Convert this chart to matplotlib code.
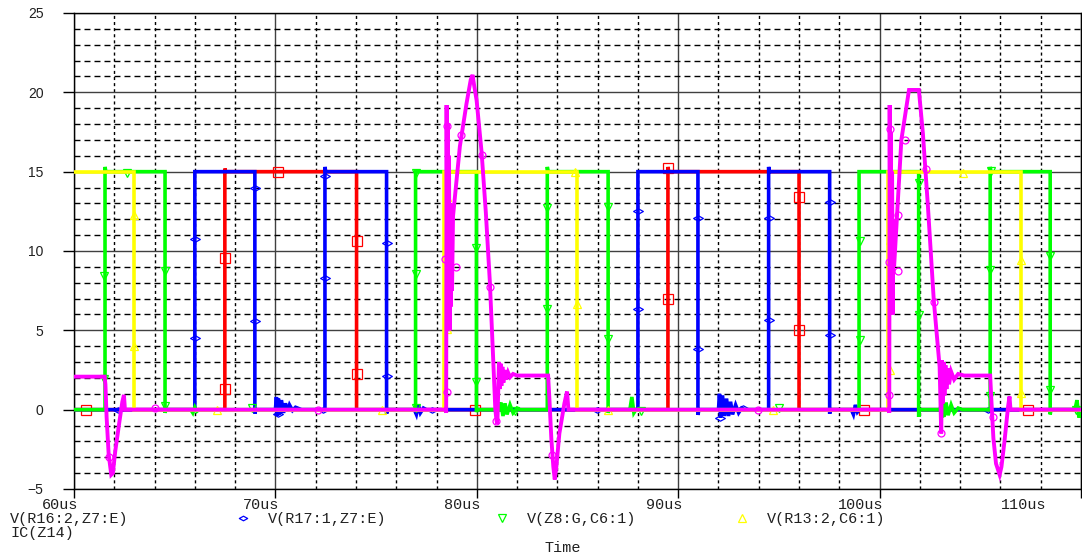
import matplotlib
matplotlib.use("Agg")
import matplotlib.pyplot as plt
import matplotlib.transforms as mtransforms
from matplotlib.lines import Line2D
from matplotlib.path import Path
from matplotlib.ticker import MultipleLocator

# transient run 60us..110us, gate drive voltages and IC(Z14)
x_major = [60, 70, 80, 90, 100, 110]
x_labels = ["60us", "70us", "80us", "90us", "100us", "110us"]
y_major = [-5, 0, 5, 10, 15, 20, 25]

# V(R16:2,Z7:E)
red_t = [60.0, 67.49, 67.49, 67.53, 74.03, 74.03, 89.49, 89.49, 89.53, 96.0, 96.0, 110.0]
red_v = [0.0, 0.0, 15.2, 15.0, 15.0, 0.0, 0.0, 15.3, 15.0, 15.0, 0.0, 0.0]
red_mk_t = [60.58, 67.49, 67.49, 70.14, 74.03, 74.03, 79.9, 89.49, 89.49, 96.0, 96.0, 99.22, 107.36]
red_mk_v = [0, 9.58, 1.29, 15.0, 10.63, 2.25, 0, 15.2, 6.98, 13.4, 5.03, 0, 0]

# V(R17:1,Z7:E)
blue_t = [60.0, 66.0, 66.0, 68.98, 68.98, 69.03,
          70.0, 70.05, 70.1, 70.15, 70.2, 70.3, 70.4, 70.5, 70.6, 70.7, 70.85, 71.0, 71.3,
          72.46, 72.46, 72.5, 75.52, 75.52, 75.56,
          76.9, 77.0, 77.1, 77.2, 77.35, 77.5,
          88.0, 88.0, 90.98, 90.98, 91.03,
          92.0, 92.05, 92.1, 92.2, 92.3, 92.4, 92.5, 92.6, 92.7, 92.85, 93.0, 93.15, 93.3,
          94.49, 94.49, 94.53, 97.52, 97.52, 97.56,
          98.6, 98.7, 98.8, 98.9, 99.0,
          110.0]
blue_v = [0, 0, 15, 15, -0.25, 0,
          0, 0.8, -0.4, 0.7, -0.3, 0.6, -0.2, 0.4, -0.1, 0.3, -0.05, 0.15, 0,
          0, 15.3, 15, 15, -0.25, 0,
          0, -0.3, 0.3, -0.2, 0.1, 0,
          0, 15, 15, -0.33, 0,
          0, 1.0, -0.5, 0.9, -0.4, 0.7, -0.4, 0.5, -0.3, 0.3, -0.2, 0.1, 0,
          0, 15.3, 15, 15, -0.25, 0,
          0, -0.3, 0.3, -0.15, 0,
          0]
blue_mk_t = [62.2, 66.0, 66.0, 68.98, 68.98, 70.14, 72.37, 72.46, 72.46, 75.52, 75.52, 77.79,
             85.97, 88.0, 88.0, 90.98, 90.98, 92.06, 93.2, 94.49, 94.49, 97.52, 97.52, 105.38]
blue_mk_v = [0, 10.74, 4.5, 14.0, 5.6, -0.3, 0, 14.73, 8.28, 10.49, 2.15, 0,
             0, 12.5, 6.33, 12.1, 3.8, -0.5, 0.1, 12.1, 5.65, 13.1, 4.7, 0]

# V(Z8:G,C6:1)
green_t = [60.0, 61.54, 61.54, 61.58, 64.52, 64.52, 64.56,
           65.8, 65.9, 66.0, 66.1, 66.2,
           76.96, 76.96, 77.0, 79.98, 79.98, 80.02,
           81.1, 81.2, 81.3, 81.4, 81.5, 81.65, 81.8, 82.0, 82.15,
           83.5, 83.5, 83.54, 86.52, 86.52, 86.56,
           87.6, 87.7, 87.8, 87.9,
           98.98, 98.98, 101.94, 101.94, 101.98,
           103.0, 103.1, 103.2, 103.3, 103.4, 103.55, 103.7, 103.9, 104.1,
           105.49, 105.49, 105.53, 108.47, 108.47, 108.51,
           109.7, 109.8, 109.9, 110.0]
green_v = [0, 0, 15.3, 15, 15, -0.2, 0,
           0, -0.2, 0.15, -0.1, 0,
           0, 15, 15, 15, -0.15, 0,
           0, 0.45, -0.4, 0.4, -0.3, 0.3, -0.2, 0.1, 0,
           0, 15.3, 15, 15, -0.2, 0,
           0, 0.8, -0.2, 0,
           0, 15, 15, -0.45, 0,
           0, 0.5, -0.45, 0.45, -0.35, 0.3, -0.2, 0.1, 0,
           0, 15.3, 15, 15, -0.3, 0,
           0, 0.6, -0.5, 0]
green_mk_t = [61.5, 61.5, 62.61, 64.52, 64.52, 68.82, 76.96, 76.96, 76.96, 79.98, 79.98, 81.89,
              83.51, 83.51, 86.49, 86.49, 88.17, 95.0, 99.01, 99.01, 101.94, 101.94, 103.14,
              105.54, 105.49, 105.49, 108.44, 108.44, 109.76]
green_mk_v = [8.4, 1.92, 14.9, 8.72, 0.26, 0.1, 14.9, 8.53, 0.1, 10.17, 1.77, -0.1,
              12.7, 6.33, 12.8, 4.45, -0.1, 0.1, 10.65, 4.4, 14.3, 5.97, -0.2,
              15.07, 8.8, 0.83, 9.7, 1.25, 0]

# V(R13:2,C6:1)
yellow_t = [60.0, 62.99, 62.99, 78.36, 78.36, 84.97, 84.97, 100.42, 100.42, 107.03, 107.03, 110.0]
yellow_v = [15, 15, 0, 0, 15, 15, 0, 0, 15, 15, 0, 0]
yellow_mk_t = [62.99, 62.99, 67.08, 75.27, 78.5, 78.5, 84.86, 84.98, 86.52, 94.7,
               100.5, 100.5, 104.14, 107.0, 107.0]
yellow_mk_v = [12.3, 4.0, 0, 0, 13.4, 5.07, 15.0, 6.66, 0, 0, 10.7, 2.5, 14.9, 9.44, 1.04]

# IC(Z14)
mag_t = [60.0, 61.52, 61.56, 61.62, 61.72, 61.85, 61.93, 62.05, 62.25, 62.40, 62.48, 62.53,
         78.46, 78.48, 78.50, 78.53, 78.56, 78.59, 78.62, 78.65, 78.68, 78.71, 78.74, 78.77,
         78.82, 79.16, 79.49, 79.70, 79.79, 79.86, 79.99, 80.24, 80.45, 80.65, 80.80, 80.92,
         80.98, 81.02, 81.06, 81.10, 81.14, 81.18, 81.22, 81.27, 81.32, 81.38, 81.45, 81.55,
         81.65, 81.80, 82.00, 83.54, 83.60, 83.70, 83.80, 83.87, 83.95, 84.10, 84.35, 84.48, 84.55,
         100.46, 100.48, 100.50, 100.53, 100.56, 100.59, 100.62, 100.65, 100.68, 100.72,
         101.08, 101.46, 101.95, 102.15, 102.40, 102.69, 102.98, 103.06,
         103.10, 103.14, 103.18, 103.22, 103.27, 103.32, 103.38, 103.45, 103.55, 103.7, 103.9, 104.2,
         105.49, 105.55, 105.65, 105.78, 105.96, 106.05, 106.2, 106.38, 106.45, 106.5, 110.0]
mag_v = [2.08, 2.08, 1.6, -0.5, -2.8, -4.1, -4.0, -2.6, -0.8, 0.5, 0.93, 0.0,
         0.0, -0.2, 19.2, 8.0, 18.0, 6.0, 16.0, 5.0, 13.0, 6.5, 11.0, 7.5,
         12.2, 16.6, 19.3, 20.8, 21.1, 20.5, 19.5, 16.2, 12.4, 8.0, 3.6, 0.0,
         -0.7, -0.9, 1.0, 3.0, 1.3, 2.9, 1.5, 2.7, 1.7, 2.5, 1.9, 2.35,
         2.05, 2.25, 2.15, 2.15, 0.8, -1.8, -3.6, -4.4, -3.6, -1.5, 0.4, 1.14, 0.0,
         0.0, -0.2, 19.2, 8.5, 17.5, 7.0, 15.0, 6.0, 12.0, 9.0,
         17.0, 20.15, 20.15, 17.4, 12.8, 6.9, 2.7, -1.5,
         3.1, 0.4, 3.0, 0.9, 2.8, 1.3, 2.6, 1.6, 2.4, 1.9, 2.25, 2.15,
         2.15, 0.6, -1.8, -3.4, -4.1, -3.6, -2.0, 0.2, 0.83, 0.0, 0.0]
mag_mk_t = [61.75, 64.02, 72.12, 78.41, 78.5, 78.5, 78.96, 79.24, 80.28, 80.65, 80.95, 83.73,
            93.96, 100.46, 100.46, 100.5, 100.9, 100.9, 101.26, 102.32, 102.71, 103.04, 105.62]
mag_mk_v = [-3.0, 0.1, 0, 9.47, 17.9, 1.14, 9.0, 17.3, 16.05, 7.7, -0.7, -2.85,
            0, 9.33, 0.93, 17.7, 12.3, 8.76, 17.0, 15.15, 6.8, -1.5, -0.45]

W, H = 1082, 556
MONO = "Liberation Mono"

# flat open diamond used for the second trace
flat_diamond = Path([(-1, 0), (0, 0.55), (1, 0), (0, -0.55), (-1, 0)],
                    [Path.MOVETO, Path.LINETO, Path.LINETO, Path.LINETO, Path.CLOSEPOLY])

traces = [
    (red_t, red_v, red_mk_t, red_mk_v, "#ff0000", "s", 6.5),
    (blue_t, blue_v, blue_mk_t, blue_mk_v, "#0000ff", flat_diamond, 7.0),
    (green_t, green_v, green_mk_t, green_mk_v, "#00ff00", "v", 5.5),
    (yellow_t, yellow_v, yellow_mk_t, yellow_mk_v, "#ffff00", "^", 5.5),
    (mag_t, mag_v, mag_mk_t, mag_mk_v, "#ff00ff", "o", 5.0),
]


def fpos(x, y):
    return x / W, 1 - y / H


fig = plt.figure(figsize=(W / 100, H / 100), dpi=100)
ax = fig.add_axes([74 / W, 1 - 489 / H, (1081 - 74) / W, (489 - 13) / H])

for i, (t, v, mt, mv, col, mk, ms) in enumerate(traces):
    lw = 2.8 if col == "#ff00ff" else 2.6
    ax.plot(t, v, color=col, lw=lw, solid_joinstyle="miter", solid_capstyle="butt", zorder=3 + i)
    ax.plot(mt, mv, ls="none", marker=mk, ms=ms, mfc="none", mec=col, mew=0.9, zorder=3 + i)

ax.set_xlim(60, 110)
ax.set_ylim(-5, 25)
ax.set_xticks(x_major)
ax.set_yticks(y_major)
ax.xaxis.set_minor_locator(MultipleLocator(2))
ax.yaxis.set_minor_locator(MultipleLocator(1))
ax.set_axisbelow(True)
ax.grid(which="major", color="#404040", lw=1.0, ls="-")
ax.grid(which="minor", axis="x", color="black", lw=1.0, ls=(0, (2.2, 2.2)))
ax.grid(which="minor", axis="y", color="black", lw=1.0, ls=(0, (4.3, 2.9)))
ax.tick_params(which="minor", length=0)
ax.tick_params(axis="y", which="major", direction="out", length=8, width=1, pad=14,
               labelsize=10, labelcolor="#202020")
ax.tick_params(axis="x", which="major", direction="out", length=6.5, width=1, labelbottom=False)
for lab in ax.get_yticklabels():
    lab.set_fontfamily("Liberation Sans")
for s in ax.spines.values():
    s.set_color("black")
    s.set_linewidth(1.0)

# time labels sit to the left of their tick, last one pulled inside the frame
for t, lab in zip(x_major, x_labels):
    dx = -34 if t == x_major[-1] else 4
    tr = ax.get_xaxis_transform() + mtransforms.ScaledTranslation(dx / 100, -16 / 100, fig.dpi_scale_trans)
    ax.text(t, 0, lab, transform=tr, ha="right", va="center", family=MONO,
            fontsize=10.9, color="#202020", clip_on=False)

# trace legend
legend = [
    (None, "#ff0000", 10, 519, "V(R16:2,Z7:E)"),
    (flat_diamond, "#0000ff", 268, 519, "V(R17:1,Z7:E)"),
    ("v", "#00ff00", 527, 519, "V(Z8:G,C6:1)"),
    ("^", "#ffff00", 767, 519, "V(R13:2,C6:1)"),
    (None, "#ff00ff", 10, 533, "IC(Z14)"),
]
for mk, col, x, y, txt in legend:
    if mk is not None:
        mx, my = fpos(x - 25, y - 1)
        fig.add_artist(Line2D([mx], [my], transform=fig.transFigure, ls="none", marker=mk,
                              ms=6.0, mfc="none", mec=col, mew=0.9))
    fx, fy = fpos(x, y)
    fig.text(fx, fy, txt, ha="left", va="center", family=MONO, fontsize=10.9, color="#202020")

tx, ty = fpos(563, 548)
fig.text(tx, ty, "Time", ha="center", va="center", family=MONO, fontsize=10.9, color="#202020")

fig.savefig("out.png", dpi=100)
